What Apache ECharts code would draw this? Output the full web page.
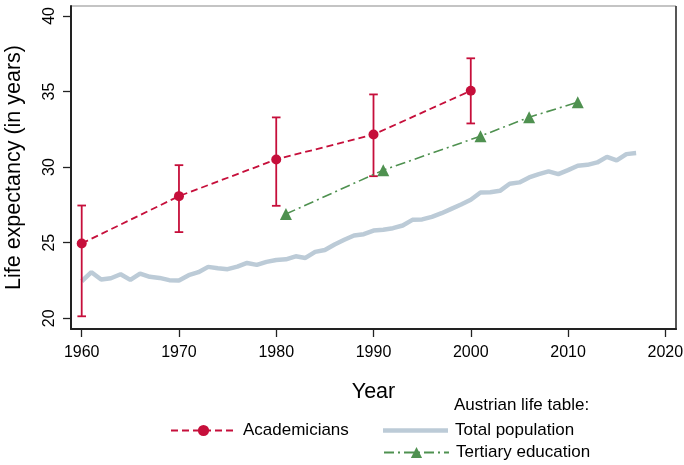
<!DOCTYPE html>
<html>
<head>
<meta charset="utf-8">
<script src="https://cdn.jsdelivr.net/npm/echarts@6/dist/echarts.min.js"></script>
<style>
html,body{margin:0;padding:0;background:#fff;}
#chart{width:684px;height:465px;}
</style>
</head>
<body>
<div id="chart"></div>
<script>
// ---- Data ----
const xTicks = [1960, 1970, 1980, 1990, 2000, 2010, 2020];
const yTicks = [20, 25, 30, 35, 40];

const acadYears = [1960, 1970, 1980, 1990, 2000];
const acadValues = [24.95, 28.08, 30.51, 32.16, 35.05];
const acadLower = [20.13, 25.70, 27.44, 29.40, 32.89];
const acadUpper = [27.46, 30.13, 33.29, 34.81, 37.20];

const tertYears = [1981, 1991, 2001, 2006, 2011];
const tertValues = [26.9, 29.8, 32.05, 33.3, 34.3];

const totalYears = [1960, 1961, 1962, 1963, 1964, 1965, 1966, 1967, 1968, 1969,
  1970, 1971, 1972, 1973, 1974, 1975, 1976, 1977, 1978, 1979,
  1980, 1981, 1982, 1983, 1984, 1985, 1986, 1987, 1988, 1989,
  1990, 1991, 1992, 1993, 1994, 1995, 1996, 1997, 1998, 1999,
  2000, 2001, 2002, 2003, 2004, 2005, 2006, 2007, 2008, 2009,
  2010, 2011, 2012, 2013, 2014, 2015, 2016, 2017];
const totalValues = [22.45, 23.05, 22.56, 22.65, 22.91, 22.54, 22.96, 22.74, 22.67, 22.52,
  22.50, 22.85, 23.05, 23.40, 23.31, 23.25, 23.42, 23.66, 23.53, 23.73,
  23.86, 23.90, 24.10, 23.99, 24.39, 24.52, 24.88, 25.19, 25.48, 25.56,
  25.80, 25.86, 25.96, 26.14, 26.51, 26.54, 26.71, 26.95, 27.24, 27.53,
  27.84, 28.32, 28.34, 28.43, 28.90, 28.99, 29.32, 29.54, 29.72, 29.54,
  29.80, 30.09, 30.15, 30.31, 30.68, 30.44, 30.86, 30.93];

// ---- Styles ----
const RED = '#c60f3b';
const GREEN = '#4f9150';
const GRAY = '#bccbd7';
const FONT = "'Liberation Sans', Arial, Helvetica, sans-serif";

const chart = echarts.init(document.getElementById('chart'), null, {renderer: 'canvas'});

const zip = (a, b) => a.map((v, i) => [v, b[i]]);
const errData = acadYears.map((y, i) => [y, acadLower[i], acadUpper[i]]);

const legendText = {fontSize: 17, color: '#000', fontFamily: FONT, padding: [0, 0, 0, 2]};

const option = {
  animation: false,
  backgroundColor: '#fff',
  textStyle: {fontFamily: FONT},
  grid: {left: 71, top: 6, width: 605, height: 323, containLabel: false, outerBoundsMode: 'none'},
  xAxis: {
    type: 'value',
    min: 1958.9, max: 2021.1,
    name: 'Year',
    nameLocation: 'middle',
    nameGap: 52,
    nameTextStyle: {fontSize: 21.5, color: '#000', fontFamily: FONT},
    axisLine: {show: true, onZero: false, lineStyle: {color: '#222', width: 2}},
    axisTick: {show: true, length: 8, lineStyle: {color: '#222', width: 1.3}, customValues: xTicks},
    axisLabel: {fontSize: 16, color: '#000', margin: 16, fontFamily: FONT, customValues: xTicks,
      formatter: v => String(v)},
    splitLine: {show: false}
  },
  yAxis: {
    type: 'value',
    min: 19.29, max: 40.66,
    name: 'Life expectancy (in years)',
    nameLocation: 'middle',
    nameGap: 46,
    nameRotate: 90,
    nameTextStyle: {fontSize: 21.5, color: '#000', fontFamily: FONT},
    axisLine: {show: true, onZero: false, lineStyle: {color: '#222', width: 2}},
    axisTick: {show: true, length: 8, lineStyle: {color: '#222', width: 1.3}, customValues: yTicks},
    axisLabel: {fontSize: 16, color: '#000', margin: 13, rotate: 90, fontFamily: FONT, customValues: yTicks,
      formatter: v => String(v)},
    splitLine: {show: false}
  },
  legend: [
    {
      data: ['Academicians'],
      left: 165, top: 417,
      itemWidth: 65, itemHeight: 14,
      textStyle: legendText,
      selectedMode: false
    },
    {
      data: [{name: 'Total population', icon: 'rect'}],
      left: 378, top: 417,
      itemWidth: 65, itemHeight: 4.5,
      textStyle: legendText,
      selectedMode: false
    },
    {
      data: ['Tertiary education'],
      left: 378, top: 439,
      itemWidth: 65, itemHeight: 14,
      textStyle: legendText,
      selectedMode: false
    }
  ],
  graphic: [
    {type: 'line', shape: {x1: 71, y1: 6, x2: 676, y2: 6}, style: {stroke: '#b0b0b0', lineWidth: 1.5}, silent: true},
    {type: 'line', shape: {x1: 676, y1: 6, x2: 676, y2: 330}, style: {stroke: '#444', lineWidth: 1.8}, silent: true},
    {type: 'text', left: 454, top: 397, style: {text: 'Austrian life table:', fontSize: 17, fill: '#000', font: "17px 'Liberation Sans', Arial, sans-serif"}, silent: true}
  ],
  series: [
    {
      name: 'Total population',
      type: 'line',
      data: zip(totalYears, totalValues),
      showSymbol: false,
      symbol: 'none',
      lineStyle: {color: GRAY, width: 4.5},
      itemStyle: {color: GRAY},
      z: 1
    },
    {
      name: 'errbars',
      type: 'custom',
      data: errData,
      renderItem: function (params, api) {
        const x = api.value(0);
        const lo = api.coord([x, api.value(1)]);
        const hi = api.coord([x, api.value(2)]);
        const cap = 4.3;
        const st = {stroke: RED, lineWidth: 1.8};
        return {
          type: 'group',
          children: [
            {type: 'line', shape: {x1: lo[0], y1: lo[1], x2: hi[0], y2: hi[1]}, style: st},
            {type: 'line', shape: {x1: lo[0] - cap, y1: lo[1], x2: lo[0] + cap, y2: lo[1]}, style: st},
            {type: 'line', shape: {x1: hi[0] - cap, y1: hi[1], x2: hi[0] + cap, y2: hi[1]}, style: st}
          ]
        };
      },
      z: 2
    },
    {
      name: 'Academicians',
      type: 'line',
      data: zip(acadYears, acadValues),
      symbol: 'circle',
      symbolSize: 10,
      lineStyle: {color: RED, width: 1.8, type: [7, 4]},
      itemStyle: {color: RED},
      z: 3
    },
    {
      name: 'Tertiary education',
      type: 'line',
      data: zip(tertYears, tertValues),
      symbol: 'triangle',
      symbolSize: 12,
      lineStyle: {color: GREEN, width: 1.6, type: [10, 4, 2, 4]},
      itemStyle: {color: GREEN},
      z: 3
    }
  ]
};
chart.setOption(option);
</script>
</body>
</html>
